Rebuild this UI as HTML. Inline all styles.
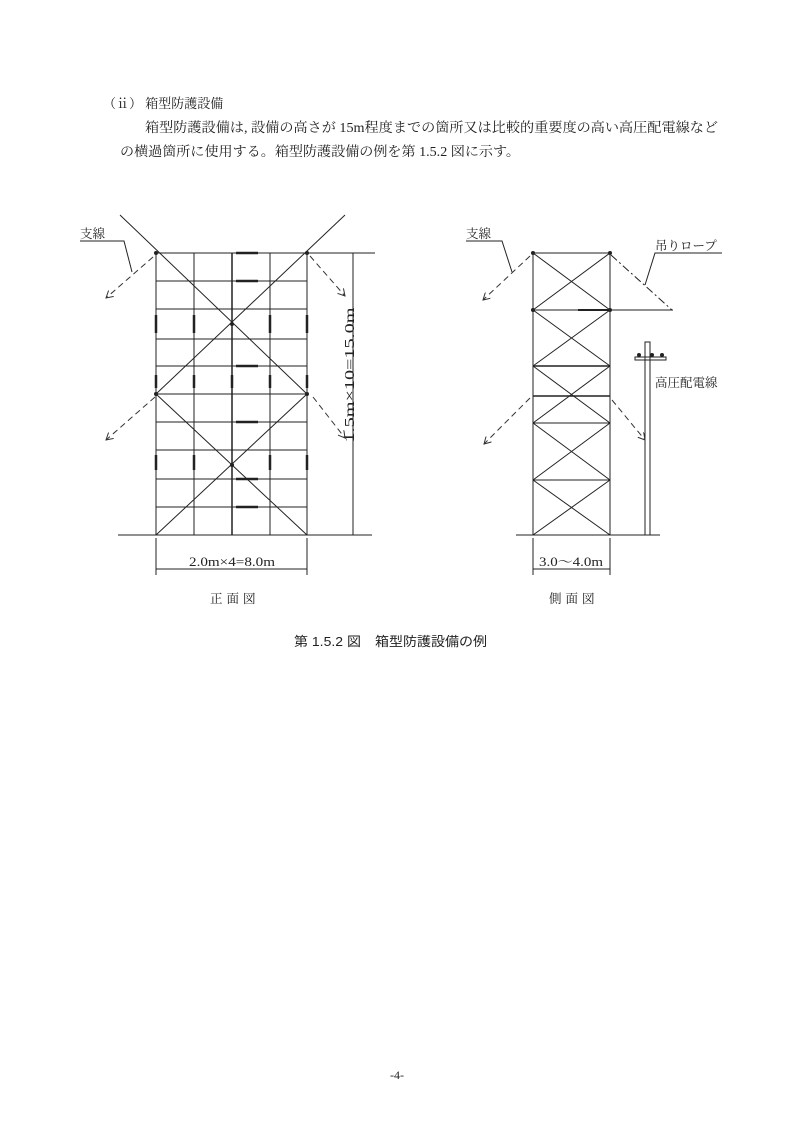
<!DOCTYPE html>
<html><head><meta charset="utf-8"><style>
html,body{margin:0;padding:0;background:#fff;}
svg{display:block;}
text{font-family:"Liberation Serif","Noto Serif CJK JP",serif;fill:#222;}
.g{font-family:"Liberation Sans","Noto Sans CJK JP",sans-serif;}
</style></head><body>
<svg width="794" height="1123" viewBox="0 0 794 1123" xmlns="http://www.w3.org/2000/svg">
<defs>
<marker id="ah" markerWidth="8" markerHeight="8" refX="7" refY="4" orient="auto" markerUnits="userSpaceOnUse">
<path d="M0,0 L7,4 L0,8" fill="none" stroke="#333" stroke-width="1"/></marker>
</defs>
<text x="103" y="108" font-size="13">（ⅱ） 箱型防護設備</text>
<text x="145" y="132" font-size="13.5" textLength="573" lengthAdjust="spacingAndGlyphs">箱型防護設備は, 設備の高さが 15m程度までの箇所又は比較的重要度の高い高圧配電線など</text>
<text x="120" y="156" font-size="13.5" textLength="400" lengthAdjust="spacingAndGlyphs">の横過箇所に使用する。箱型防護設備の例を第 1.5.2 図に示す。</text>

<g stroke="#222" stroke-width="1" fill="none">
<line x1="156" y1="253" x2="156" y2="535"/><line x1="194" y1="253" x2="194" y2="535"/>
<line x1="232" y1="253" x2="232" y2="535" stroke-width="1.5"/><line x1="270" y1="253" x2="270" y2="535"/>
<line x1="307" y1="253" x2="307" y2="535"/>
<line x1="156" y1="253" x2="375" y2="253"/>
<line x1="156" y1="281" x2="307" y2="281"/><line x1="156" y1="309" x2="307" y2="309"/>
<line x1="156" y1="339" x2="307" y2="339"/><line x1="156" y1="366" x2="307" y2="366"/>
<line x1="156" y1="394" x2="307" y2="394"/><line x1="156" y1="422" x2="307" y2="422"/>
<line x1="156" y1="450" x2="307" y2="450"/><line x1="156" y1="479" x2="307" y2="479"/>
<line x1="156" y1="507" x2="307" y2="507"/>
<line x1="118" y1="535" x2="372" y2="535"/>
<line x1="120" y1="215" x2="307" y2="394"/><line x1="345" y1="215" x2="156" y2="394"/>
<line x1="156" y1="394" x2="307" y2="535"/><line x1="307" y1="394" x2="156" y2="535"/>
<g stroke-width="2.5">
<line x1="236" y1="253" x2="258" y2="253"/><line x1="236" y1="281" x2="258" y2="281"/>
<line x1="236" y1="366" x2="258" y2="366"/><line x1="236" y1="422" x2="258" y2="422"/>
<line x1="236" y1="479" x2="258" y2="479"/><line x1="236" y1="507" x2="258" y2="507"/>
<line x1="156" y1="315" x2="156" y2="333"/><line x1="194" y1="315" x2="194" y2="333"/>
<line x1="270" y1="315" x2="270" y2="333"/><line x1="307" y1="315" x2="307" y2="333"/>
<line x1="156" y1="375" x2="156" y2="388"/><line x1="194" y1="375" x2="194" y2="388"/>
<line x1="232" y1="375" x2="232" y2="388"/><line x1="270" y1="375" x2="270" y2="388"/>
<line x1="307" y1="375" x2="307" y2="388"/>
<line x1="156" y1="455" x2="156" y2="470"/><line x1="194" y1="455" x2="194" y2="470"/>
<line x1="270" y1="455" x2="270" y2="470"/><line x1="307" y1="455" x2="307" y2="470"/>
</g>
<line x1="353" y1="253" x2="353" y2="535"/>
<line x1="156" y1="538" x2="156" y2="575"/><line x1="307" y1="538" x2="307" y2="575"/>
<line x1="156" y1="569" x2="307" y2="569"/>
<polyline points="80,241 124,241 132,272"/>
<line x1="533" y1="253" x2="533" y2="535"/><line x1="610" y1="253" x2="610" y2="535"/>
<line x1="533" y1="253" x2="610" y2="253"/><line x1="533" y1="310" x2="673" y2="310"/>
<line x1="533" y1="366" x2="610" y2="366" stroke-width="1.5"/><line x1="533" y1="396" x2="610" y2="396" stroke-width="1.5"/>
<line x1="533" y1="423" x2="610" y2="423"/><line x1="533" y1="480" x2="610" y2="480"/>
<line x1="516" y1="535" x2="660" y2="535"/>
<line x1="533" y1="253" x2="610" y2="310"/><line x1="610" y1="253" x2="533" y2="310"/>
<line x1="533" y1="310" x2="610" y2="366"/><line x1="610" y1="310" x2="533" y2="366"/>
<line x1="533" y1="366" x2="610" y2="423"/><line x1="610" y1="366" x2="533" y2="423"/>
<line x1="533" y1="423" x2="610" y2="480"/><line x1="610" y1="423" x2="533" y2="480"/>
<line x1="533" y1="480" x2="610" y2="535"/><line x1="610" y1="480" x2="533" y2="535"/>
<line x1="578" y1="310" x2="610" y2="310" stroke-width="2"/>
<line x1="533" y1="538" x2="533" y2="575"/><line x1="610" y1="538" x2="610" y2="575"/>
<line x1="533" y1="569" x2="610" y2="569"/>
<polyline points="466,241 502,241 512,272"/>
<polyline points="722,253 655,253 645,285"/>
<rect x="645" y="342" width="5" height="193"/>
<rect x="635" y="357" width="31" height="3"/>
<line x1="611" y1="255" x2="672" y2="310" stroke-dasharray="8,3,2,3"/>
</g>
<g fill="#222">
<circle cx="639" cy="355" r="2"/><circle cx="652" cy="355" r="2"/><circle cx="662" cy="355" r="2"/>
<circle cx="156" cy="253" r="2"/><circle cx="307" cy="253" r="2"/><circle cx="156" cy="394" r="2"/><circle cx="307" cy="394" r="2"/>
<circle cx="232" cy="324" r="2"/><circle cx="232" cy="465" r="2"/>
<circle cx="533" cy="253" r="2"/><circle cx="610" cy="253" r="2"/><circle cx="533" cy="310" r="2"/><circle cx="610" cy="310" r="2"/>
</g>
<g stroke="#333" stroke-width="1" fill="none" stroke-dasharray="6,4" marker-end="url(#ah)">
<line x1="153" y1="257" x2="106" y2="298"/><line x1="155" y1="397" x2="106" y2="440"/>
<line x1="310" y1="256" x2="345" y2="296"/><line x1="313" y1="397" x2="345" y2="438"/>
<line x1="530" y1="256" x2="483" y2="300"/><line x1="530" y1="398" x2="484" y2="444"/>
<line x1="612" y1="400" x2="645" y2="440"/>
</g>
<text x="80" y="238" font-size="12.5">支線</text>
<text x="466" y="238" font-size="12.5">支線</text>
<text x="655" y="250" font-size="12.5">吊りロープ</text>
<text x="655" y="387" font-size="12.5">高圧配電線</text>
<text x="189" y="566" font-size="12.5" textLength="86" lengthAdjust="spacingAndGlyphs">2.0m×4=8.0m</text>
<text x="539" y="566" font-size="12.5" textLength="64" lengthAdjust="spacingAndGlyphs">3.0～4.0m</text>
<text transform="translate(350,375) rotate(-90)" text-anchor="middle" font-size="13.5" dy="4" textLength="135" lengthAdjust="spacingAndGlyphs">1.5m×10=15.0m</text>
<text x="210" y="603" font-size="12.5" letter-spacing="4">正面図</text>
<text x="549" y="603" font-size="12.5" letter-spacing="4">側面図</text>
<text class="g" x="294" y="646" font-size="13" textLength="193" lengthAdjust="spacingAndGlyphs">第 1.5.2 図　箱型防護設備の例</text>
<text x="397" y="1079" font-size="12" text-anchor="middle">-4-</text>
</svg>
</body></html>
